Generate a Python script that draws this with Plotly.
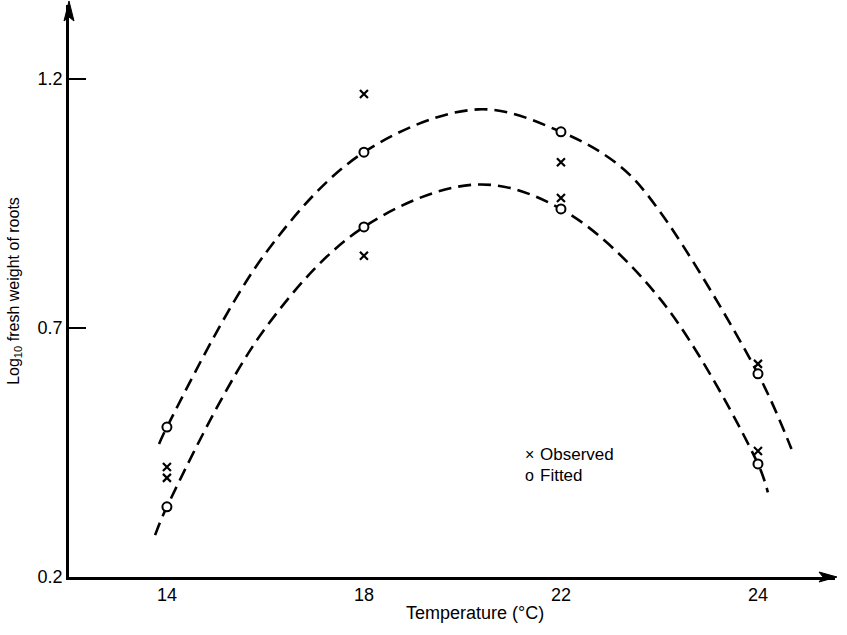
import plotly.graph_objects as go

# Temperatures are plotted in evenly spaced slots
temps = [14, 18, 22, 24]
tick_labels = ["14", "18", "22", "24"]
slot = {t: i for i, t in enumerate(temps)}

# Observed log10 fresh weight of roots (two runs per temperature)
obs_temp = [14, 14, 18, 18, 22, 22, 24, 24]
obs_val = [0.421, 0.399, 1.170, 0.845, 1.033, 0.961, 0.628, 0.453]

# Fitted values on the two response curves
fit_upper = [0.501, 1.053, 1.094, 0.608]
fit_lower = [0.341, 0.903, 0.939, 0.427]

# Points along the two fitted response curves (slot position, value)
upper_curve_pos = [-0.04, 0.0, 0.5, 1.0, 1.58, 2.0, 2.3, 2.5, 3.0, 3.17]
upper_curve_val = [0.467, 0.501, 0.85, 1.053, 1.139, 1.094, 1.025, 0.935, 0.608, 0.457]
lower_curve_pos = [-0.06, 0.0, 0.5, 1.0, 1.57, 2.0, 2.5, 3.0, 3.05]
lower_curve_val = [0.284, 0.341, 0.70, 0.903, 0.988, 0.939, 0.760, 0.427, 0.37]

y_ticks = [0.2, 0.7, 1.2]
y_tick_labels = ["0.2", "0.7", "1.2"]

FONT = "Liberation Sans, Arial, sans-serif"
dash_line = dict(color="black", width=2.6, dash="13px,7px", shape="spline", smoothing=1.0)

fig = go.Figure()

for xs, ys in [(upper_curve_pos, upper_curve_val), (lower_curve_pos, lower_curve_val)]:
    fig.add_trace(go.Scatter(x=xs, y=ys, mode="lines", line=dash_line,
                             showlegend=False, hoverinfo="skip"))

fig.add_trace(go.Scatter(
    x=[slot[t] for t in temps] * 2,
    y=fit_upper + fit_lower,
    mode="markers", name="Fitted",
    marker=dict(symbol="circle", size=9, color="white",
                line=dict(color="black", width=2)),
))

fig.add_trace(go.Scatter(
    x=[slot[t] for t in obs_temp],
    y=obs_val,
    mode="markers", name="Observed",
    marker=dict(symbol="x-thin", size=8, color="black",
                line=dict(color="black", width=2.2)),
))

# key: symbol glyph + label
key_items = [("×", "Observed", 0.2150), ("o", "Fitted", 0.1783)]
annotations = []
for glyph, label, ky in key_items:
    annotations.append(dict(text=glyph, xref="paper", yref="paper", x=0.6018, y=ky,
                            xanchor="center", yanchor="middle", showarrow=False,
                            borderpad=0, font=dict(size=16)))
    annotations.append(dict(text=label, xref="paper", yref="paper", x=0.6136, y=ky,
                            xanchor="left", yanchor="middle", showarrow=False,
                            borderpad=0, font=dict(size=17)))

annotations.append(
    dict(text="Temperature (°C)", xref="paper", yref="paper",
         x=0.530, y=-0.063, xanchor="center", yanchor="middle",
         showarrow=False, font=dict(size=18)))

# arrowheads at the ends of both axes
arrow_heads = [
    dict(type="path", xref="paper", yref="paper", xsizemode="pixel", ysizemode="pixel",
         xanchor=0, yanchor=1, path="M 0 4 L -5 -16 L 0 -12 L 5 -16 Z",
         fillcolor="black", line=dict(color="black", width=1)),
    dict(type="path", xref="paper", yref="paper", xsizemode="pixel", ysizemode="pixel",
         xanchor=1, yanchor=0, path="M 2 0 L -16 5 L -12 0 L -16 -5 Z",
         fillcolor="black", line=dict(color="black", width=1)),
]

fig.update_layout(
    width=847, height=635,
    margin=dict(l=69, r=12, t=5, b=58),
    paper_bgcolor="white", plot_bgcolor="white",
    font=dict(family=FONT, size=18, color="black"),
    showlegend=False,
    xaxis=dict(range=[-0.497, 3.391], showgrid=False, zeroline=False,
               showline=True, linecolor="black", linewidth=2.5,
               tickmode="array", tickvals=list(range(len(temps))),
               ticktext=tick_labels, ticks=""),
    yaxis=dict(range=[0.2, 1.3486], showgrid=False, zeroline=False,
               showline=True, linecolor="black", linewidth=2.5,
               tickmode="array", tickvals=y_ticks, ticktext=y_tick_labels,
               ticks="inside", ticklen=17, tickwidth=1.5, tickcolor="black",
               title=dict(text="Log<sub>10</sub> fresh weight of roots",
                          font=dict(size=16), standoff=15)),
    annotations=annotations,
    shapes=arrow_heads,
)

fig.write_html("out.html")
